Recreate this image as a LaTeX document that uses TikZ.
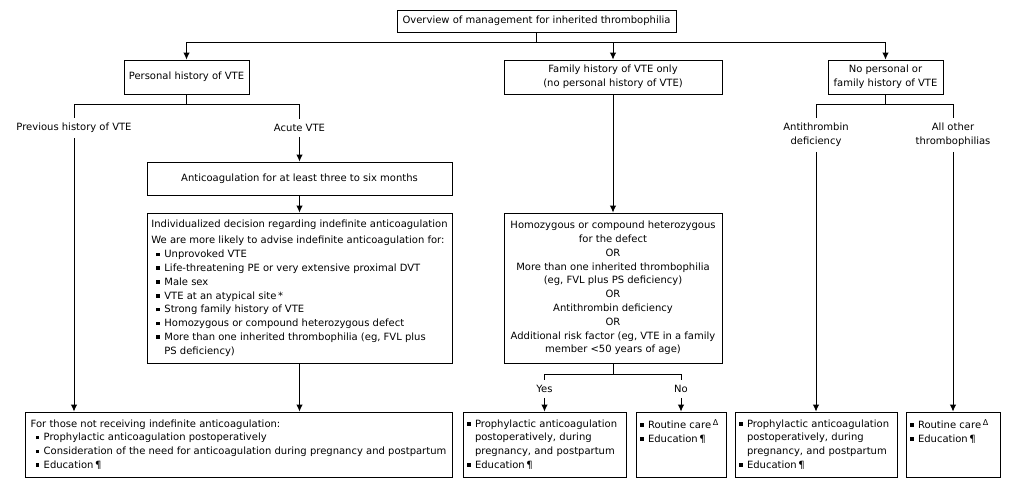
\documentclass[tikz,border=0pt]{standalone}
\usepackage{fontspec}
\setmainfont{DejaVu Sans}
\usetikzlibrary{arrows.meta, positioning}

\newcommand{\bul}{\rule[1.6pt]{3.6pt}{3.6pt}}
\newcommand{\itm}{\hspace*{5pt}\bul\hspace{4.4pt}}
\newcommand{\cnt}{\hspace*{13pt}}
\newcommand{\itmb}{\bul\hspace{4.4pt}}
\newcommand{\cntb}{\hspace*{8pt}}
\newcommand{\dlt}{\,\raisebox{3.2pt}{\fontsize{8}{8}\selectfont Δ}}

\begin{document}
\begin{tikzpicture}[x=1pt, y=-1pt, font=\fontsize{10}{13.8}\selectfont,
  box/.style={draw, line width=0.9pt, inner sep=4pt},
  listbox/.style={box, align=left},
  lbl/.style={inner sep=5pt, align=center},
  link/.style={line width=0.9pt},
  arrow/.style={line width=0.9pt, -{Latex[length=7pt, width=6.5pt]}}]

\useasboundingbox (0,0) rectangle (1010,488);

% top level
\node[box, minimum width=279pt, minimum height=22pt] (top) at (536.5,21) {Overview of management for inherited thrombophilia};

\node[box, minimum width=125pt, minimum height=34pt] (personal) at (186.5,77) {Personal history of VTE};
\node[box, align=center, minimum width=218pt, minimum height=34pt] (family) at (613,77) {Family history of VTE only\\(no personal history of VTE)};
\node[box, align=center, minimum width=115pt, minimum height=34pt] (nopers) at (885.5,77) {No personal or\\family history of VTE};

\coordinate (split) at (536.5,42);
\draw[link] (top.south) -- (split);
\draw[arrow] (split) -| (personal.north);
\draw[arrow] (split) -| (family.north);
\draw[arrow] (split) -| (nopers.north);

% personal history
\node[lbl] (prev) at (74,128) {Previous history of VTE};
\node[lbl] (acute) at (299.5,128) {Acute VTE};
\draw[link] (personal.south) -- ++(0,10) -| (prev.north);
\draw[link] (personal.south) ++(0,10) -| (acute.north);

\node[box, minimum width=305pt, minimum height=33pt] (anticoag) at (299.5,178.5) {Anticoagulation for at least three to six months};
\node[listbox, minimum width=305pt, minimum height=150pt] (indiv) at (299.5,288) {Individualized decision regarding indefinite anticoagulation\\[3pt]
We are more likely to advise indefinite anticoagulation for:\\
\itm Unprovoked VTE\\
\itm Life-threatening PE or very extensive proximal DVT\\
\itm Male sex\\
\itm VTE at an atypical site\,*\\
\itm Strong family history of VTE\\
\itm Homozygous or compound heterozygous defect\\
\itm More than one inherited thrombophilia (eg, FVL plus\\
\cnt PS deficiency)};

\draw[arrow] (acute.south) -- (anticoag.north);
\draw[arrow] (anticoag.south) -- (indiv.north);

\node[listbox, minimum width=427pt, minimum height=65pt] (boxa) at (238.5,444.5) {For those not receiving indefinite anticoagulation:\\
\itm Prophylactic anticoagulation postoperatively\\
\itm Consideration of the need for anticoagulation during pregnancy and postpartum\\
\itm Education\,¶};

\draw[arrow] (prev.south) -- (prev.south |- boxa.north);
\draw[arrow] (indiv.south) -- (indiv.south |- boxa.north);

% family history only
\node[box, align=center, minimum width=218pt, minimum height=150pt] (famcrit) at (613,288) {Homozygous or compound heterozygous\\for the defect\\OR\\More than one inherited thrombophilia\\(eg, FVL plus PS deficiency)\\OR\\Antithrombin deficiency\\OR\\Additional risk factor (eg, VTE in a family\\member <50 years of age)};
\draw[arrow] (family.south) -- (famcrit.north);

\node[lbl] (yes) at (544.5,389) {Yes};
\node[lbl] (no) at (681,389) {No};
\draw[link] (famcrit.south) -- ++(0,11) -| (yes.north);
\draw[link] (famcrit.south) ++(0,11) -| (no.north);

\node[listbox, text width=155pt, minimum height=65pt] (boxb) at (544.5,444.5) {\itmb Prophylactic anticoagulation\\
\cntb postoperatively, during\\
\cntb pregnancy, and postpartum\\
\itmb Education\,¶};
\node[listbox, text width=82pt, minimum height=65pt] (boxc) at (681,444.5) {\itmb Routine care\dlt\\
\itmb Education\,¶\\ ~\\ ~};
\draw[arrow] (yes.south) -- (boxb.north);
\draw[arrow] (no.south) -- (boxc.north);

% no personal or family history
\node[lbl] (anti) at (816,135) {Antithrombin\\deficiency};
\node[lbl] (allother) at (953,135) {All other\\thrombophilias};
\draw[link] (nopers.south) -- ++(0,10) -| (anti.north);
\draw[link] (nopers.south) ++(0,10) -| (allother.north);

\node[listbox, text width=154pt, minimum height=65pt] (boxd) at (816,444.5) {\itmb Prophylactic anticoagulation\\
\cntb postoperatively, during\\
\cntb pregnancy, and postpartum\\
\itmb Education\,¶};
\node[listbox, text width=86pt, minimum height=65pt] (boxe) at (953,444.5) {\itmb Routine care\dlt\\
\itmb Education\,¶\\ ~\\ ~};
\draw[arrow] (anti.south) -- (boxd.north);
\draw[arrow] (allother.south) -- (boxe.north);

\end{tikzpicture}
\end{document}
